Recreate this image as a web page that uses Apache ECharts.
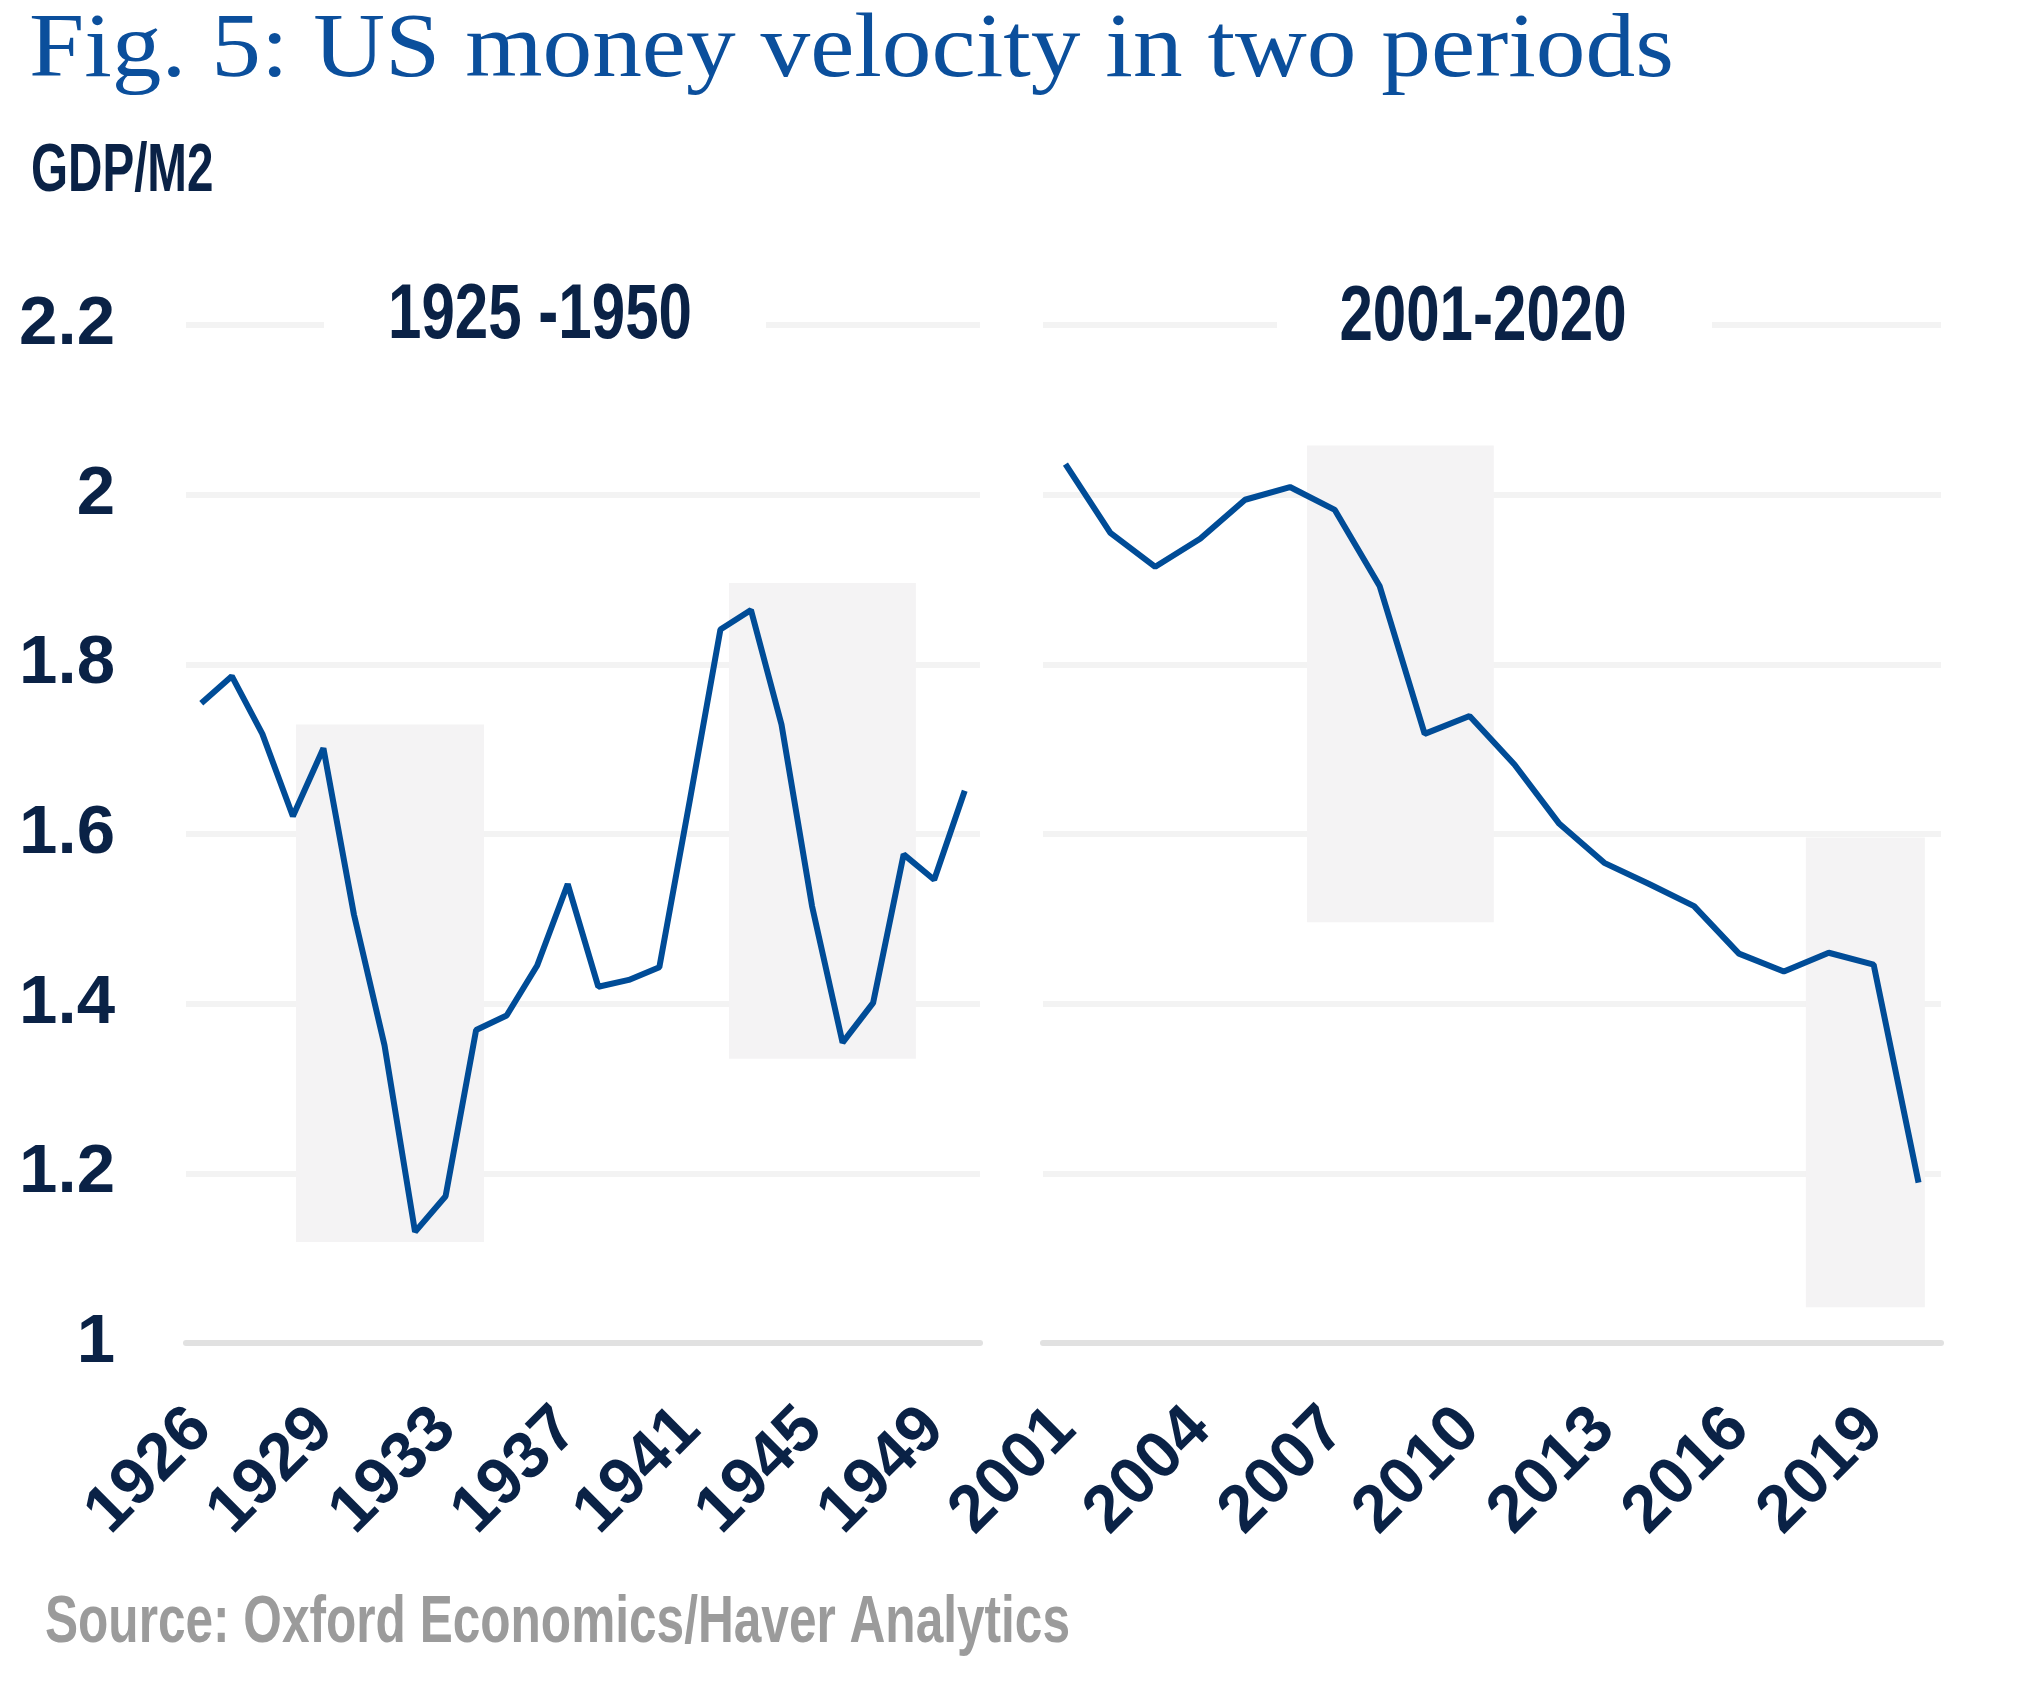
<!DOCTYPE html>
<html>
<head>
<meta charset="utf-8">
<script src="https://cdn.jsdelivr.net/npm/echarts@6/dist/echarts.min.js"></script>
<style>
html, body { margin: 0; padding: 0; background: #fff; }
#chart { width: 2028px; height: 1681px; }
</style>
</head>
<body>
<div id="chart"></div>
<script>
// 1925-1950 panel
var years1 = ['1925', '1926', '1927', '1928', '1929', '1930', '1931', '1932', '1933', '1934', '1935', '1936', '1937',
	'1938', '1939', '1940', '1941', '1942', '1943', '1944', '1945', '1946', '1947', '1948', '1949', '1950']
var velocity1 = [1.754, 1.786, 1.718, 1.621, 1.701, 1.505, 1.351, 1.131, 1.173, 1.369, 1.386, 1.445, 1.541,
	1.420, 1.428, 1.443, 1.640, 1.841, 1.864, 1.729, 1.515, 1.354, 1.401, 1.576, 1.546, 1.651]
var ticks1 = ['1926', '1929', '1933', '1937', '1941', '1945', '1949']

// 2001-2020 panel
var years2 = ['2001', '2002', '2003', '2004', '2005', '2006', '2007', '2008', '2009', '2010',
	'2011', '2012', '2013', '2014', '2015', '2016', '2017', '2018', '2019', '2020']
var velocity2 = [2.036, 1.955, 1.915, 1.948, 1.994, 2.009, 1.982, 1.892, 1.718, 1.739,
	1.682, 1.612, 1.566, 1.541, 1.515, 1.459, 1.438, 1.460, 1.446, 1.189]
var ticks2 = ['2001', '2004', '2007', '2010', '2013', '2016', '2019']

// shaded periods: [year from, year to, velocity low, velocity high]
var boxes1 = [[1928.10, 1934.26, 1.119, 1.729], [1942.28, 1948.40, 1.335, 1.896]]
var boxes2 = [[2006.38, 2010.54, 1.496, 2.058], [2017.49, 2020.14, 1.042, 1.596]]

var navy = '#0a2246'
var blue = '#004c97'
// no condensed face is installed, so static texts get squeezed with scaleX
var sans = "'Liberation Sans', Arial, sans-serif"

function renderBox(params, api) {
	var p0 = api.coord([api.value(0), api.value(3)])
	var p1 = api.coord([api.value(1), api.value(2)])
	return {
		type: 'rect',
		shape: { x: p0[0], y: p0[1], width: p1[0] - p0[0], height: p1[1] - p0[1] },
		style: { fill: '#f4f3f4' }
	}
}

function yAxisFor(gridIndex, showLabel) {
	return {
		type: 'value',
		gridIndex: gridIndex,
		min: 1,
		max: 2.2,
		interval: 0.2,
		axisLine: { show: false },
		axisTick: { show: false },
		axisLabel: {
			show: showLabel,
			margin: 71,
			padding: [0, 0, 14, 0],
			color: navy,
			fontFamily: sans,
			fontWeight: 'bold',
			fontSize: 69
		},
		splitLine: { lineStyle: { color: '#f3f3f3', width: 6 } }
	}
}

function xAxisFor(gridIndex, cats, ticks, step) {
	return {
		type: 'category',
		gridIndex: gridIndex,
		data: cats,
		boundaryGap: true,
		axisLine: { lineStyle: { color: '#e1e1e1', width: 6 } },
		axisTick: { show: false },
		axisLabel: {
			interval: step - 1,
			rotate: 45,
			margin: 76,
			color: navy,
			fontFamily: sans,
			fontWeight: 'bold',
			fontSize: 66,
			formatter: function (value, index) {
				return ticks[index / step]
			}
		}
	}
}

function squeezedText(text, x, y, align, size, sx, color, family, weight) {
	return {
		type: 'text',
		x: x,
		y: y,
		scaleX: sx,
		z: 60,
		style: {
			text: text,
			fill: color,
			font: weight + ' ' + size + 'px ' + family,
			textAlign: align,
			textVerticalAlign: 'middle'
		}
	}
}

var chart = echarts.init(document.getElementById('chart'))

var option = {
	backgroundColor: '#fff',
	animation: false,
	graphic: [
		squeezedText('Fig. 5: US money velocity in two periods', 29, 52, 'left', 92, 1.08, '#0b4f9c', "'Liberation Serif', serif", 'normal'),
		squeezedText('GDP/M2', 31, 172, 'left', 68, 0.70, navy, sans, 'bold'),
		// white masks break the top gridline behind the panel headings
		{ type: 'rect', shape: { x: 324, y: 300, width: 442, height: 50 }, style: { fill: '#fff' }, z: 50 },
		{ type: 'rect', shape: { x: 1277, y: 300, width: 435, height: 50 }, style: { fill: '#fff' }, z: 50 },
		squeezedText('1925 -1950', 540, 317, 'center', 77, 0.78, navy, sans, 'bold'),
		squeezedText('2001-2020', 1483, 319, 'center', 77, 0.78, navy, sans, 'bold'),
		squeezedText('Source: Oxford Economics/Haver Analytics', 45, 1624, 'left', 67, 0.74, '#9b9b9b', sans, 'bold')
	],
	grid: [
		{ left: 186, right: 1048, top: 325, bottom: 338 },
		{ left: 1043, right: 87, top: 325, bottom: 338 }
	],
	xAxis: [
		xAxisFor(0, years1, ticks1, 4),
		xAxisFor(1, years2, ticks2, 3),
		{ type: 'value', gridIndex: 0, min: 1924.5, max: 1950.5, show: false },
		{ type: 'value', gridIndex: 1, min: 2000.5, max: 2020.5, show: false }
	],
	yAxis: [yAxisFor(0, true), yAxisFor(1, false)],
	series: [{
		type: 'custom',
		xAxisIndex: 2,
		yAxisIndex: 0,
		renderItem: renderBox,
		data: boxes1,
		z: 1
	}, {
		type: 'custom',
		xAxisIndex: 3,
		yAxisIndex: 1,
		renderItem: renderBox,
		data: boxes2,
		z: 1
	}, {
		type: 'line',
		xAxisIndex: 0,
		yAxisIndex: 0,
		data: velocity1,
		symbol: 'none',
		lineStyle: { color: blue, width: 6 },
		z: 3
	}, {
		type: 'line',
		xAxisIndex: 1,
		yAxisIndex: 1,
		data: velocity2,
		symbol: 'none',
		lineStyle: { color: blue, width: 6 },
		z: 3
	}]
}

chart.setOption(option)
</script>
</body>
</html>
